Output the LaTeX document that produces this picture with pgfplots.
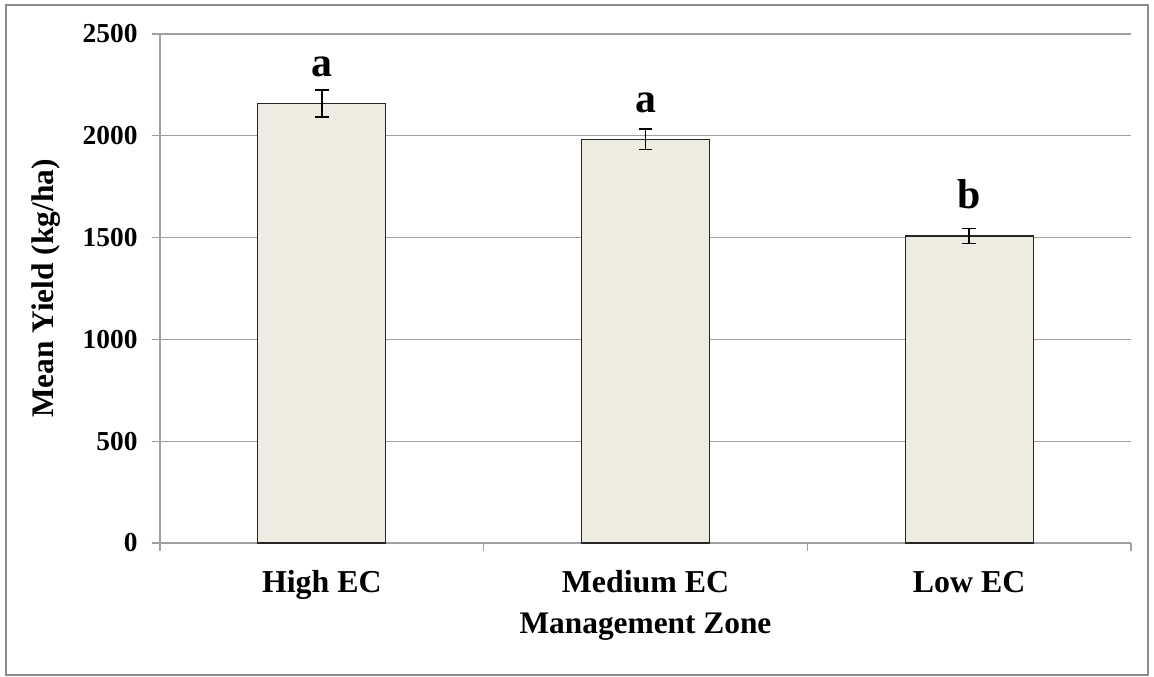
\documentclass[border=0pt]{standalone}
\usepackage{fontspec}
\setmainfont{Liberation Serif}
\usepackage{pgfplots}
\pgfplotsset{compat=1.18}
\definecolor{barfill}{RGB}{238,236,225}
\definecolor{gridgray}{RGB}{160,160,160}
\definecolor{framegray}{RGB}{140,140,140}
\pgfplotstableread{
x y e l
0 2158 65 a
1 1983 50 a
2 1508 37 b
}\yielddata
\begin{document}
\begin{tikzpicture}
\useasboundingbox (-160bp,-134bp) rectangle (994bp,543bp);
\draw[framegray, line width=1.5bp] (-154bp,538bp) rectangle (988bp,-132bp);
\begin{axis}[
  at={(0,0)}, anchor=south west,
  scale only axis, width=971bp, height=509bp,
  xmin=-0.5, xmax=2.5, ymin=0, ymax=2500,
  axis x line*=bottom, axis y line*=left,
  axis line style={gridgray, line width=1.3bp},
  ytick={0,500,...,2500}, ymajorgrids,
  major grid style={gridgray, line width=1.3bp},
  tick align=outside, major tick length=8bp,
  tick style={gridgray, line width=1.3bp},
  xtick={-0.5,0.5,1.5,2.5}, xticklabels={},
  extra x ticks={0,1,2},
  extra x tick labels={High EC, Medium EC, Low EC},
  extra x tick style={major tick length=0pt,
    tick label style={font=\fontsize{32}{38}\selectfont\bfseries, anchor=base, yshift=-49bp}},
  /pgf/number format/assume math mode=true,
  scaled y ticks=false,
  yticklabel style={font=\fontsize{27.5}{33}\selectfont\bfseries, /pgf/number format/1000 sep={}, xshift=-11bp},
  xlabel={Management Zone}, ylabel={Mean Yield (kg/ha)},
  label style={font=\fontsize{31.5}{38}\selectfont\bfseries},
  xlabel style={at={(axis description cs:0.5,-0.165)}, anchor=center},
  ylabel style={at={(axis description cs:-0.117,0.5)}, anchor=center},
  clip=false,
]
\addplot[ybar, bar width=0.395, bar shift=0pt, fill=barfill, draw=black!85, line width=1.1bp,
  nodes near coords, point meta=explicit symbolic,
  nodes near coords style={anchor=base, yshift=27bp, font=\fontsize{42}{48}\selectfont\bfseries, black},
  error bars/.cd, y dir=both, y explicit,
  error bar style={black, line width=1.8bp},
  error mark options={rotate=90, black, line width=1.8bp, mark size=6.8bp}]
  table[x=x, y=y, y error=e, meta=l] {\yielddata};
\end{axis}
\end{tikzpicture}
\end{document}
